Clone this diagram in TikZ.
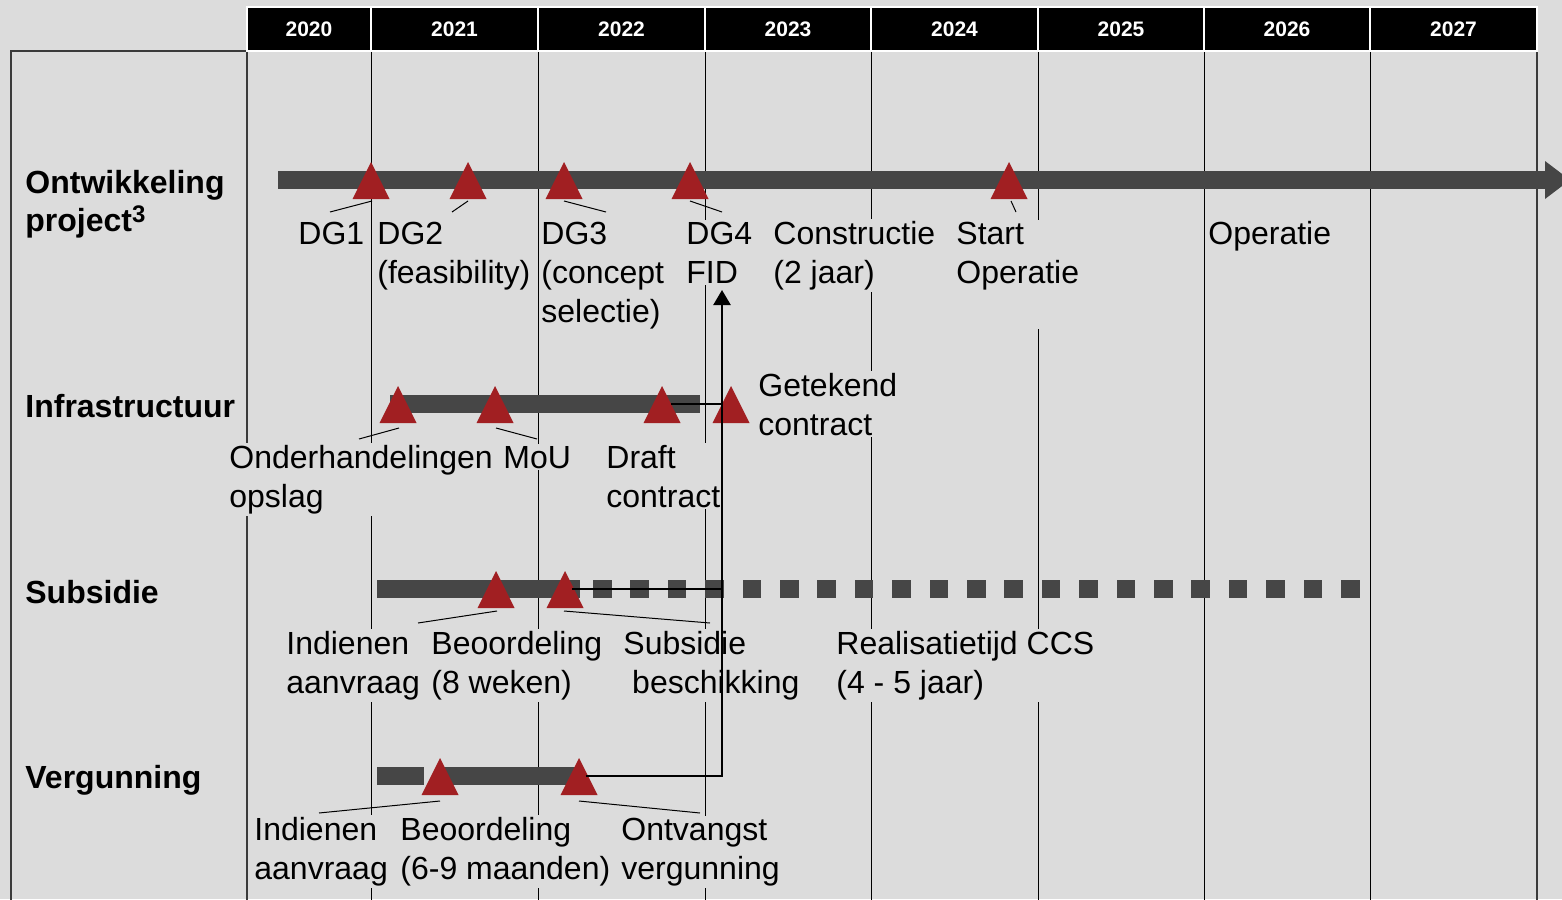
\documentclass[tikz,border=0pt]{standalone}
\usepackage{fontspec}
\setmainfont{Liberation Sans}
\usetikzlibrary{calc,arrows.meta}
\definecolor{bg}{HTML}{DCDCDC}
\definecolor{barc}{HTML}{464646}
\definecolor{msred}{HTML}{A11F22}
\definecolor{framec}{HTML}{3A3A3A}
\newcommand{\mstone}[3]{\coordinate (#1) at (#2,#3); \fill[msred] ($(#1)+(0,-18)$) -- ($(#1)+(-18.5,19)$) -- ($(#1)+(18.5,19)$) -- cycle;}
\begin{document}
\begin{tikzpicture}[x=0.5pt,y=-0.5pt,
  lbl/.style={anchor=base west, align=left, fill=bg, inner xsep=0.5pt, inner ysep=1pt, font=\fontsize{16}{19.5}\selectfont},
  rowlbl/.style={anchor=base west, align=left, inner sep=0pt, font=\fontsize{16}{19}\selectfont\bfseries},
  yr/.style={anchor=center, text=white, inner sep=0pt, font=\fontsize{10.5}{12}\selectfont\bfseries},
  frame/.style={draw=framec, line width=1pt},
  yl/.style={draw=black, line width=0.5pt},
  barfill/.style={fill=barc},
  leader/.style={draw=black, line width=0.5pt},
  conn/.style={draw=black, line width=1.2pt},
]
\useasboundingbox (0,0) rectangle (1562,899);
\clip (0,0) rectangle (1562,899);
\fill[bg] (0,0) rectangle (1562,899);

% year grid lines
\foreach \x in {371,538,705,871,1038,1204,1370} \draw[yl] (\x,51) -- (\x,905);
% frame
\draw[frame] (11,905) -- (11,51) -- (1537,51) -- (1537,905);
\draw[frame] (247,51) -- (247,905);

% header
\foreach \a/\b/\y in {247/371/2020,371/538/2021,538/705/2022,705/871/2023,871/1038/2024,1038/1204/2025,1204/1370/2026,1370/1537/2027}{
  \draw[fill=black,draw=white,line width=0.6pt] (\a,7) rectangle (\b,51);
  \node[yr] (y\y) at ({(\a+\b)/2},29) {\y};
}

% row labels (base = last line)
\node[rowlbl] (r1) at (25,231) {Ontwikkeling\\project{\fontsize{12}{12}\selectfont\raisebox{4.2pt}{3}}};
\node[rowlbl] (r2) at (25,417) {Infrastructuur};
\node[rowlbl] (r3) at (25,603) {Subsidie};
\node[rowlbl] (r4) at (25,788) {Vergunning};

% text labels (base = last line)
\node[lbl] (t1) at (297,244) {DG1};
\node[lbl] (t2) at (376,283) {DG2\\(feasibility)};
\node[lbl] (t3) at (540,322) {DG3\\(concept\\selectie)};
\node[lbl] (t4) at (685,283) {DG4\\FID};
\node[lbl] (t5) at (772,283) {Constructie\\(2 jaar)};
\node[lbl, text depth=22pt] (t6) at (955,283) {Start\\Operatie};
\node[lbl] (t7) at (1207,244) {Operatie};

\node[lbl] (u1) at (228,507) {Onderhandelingen\\opslag};
\node[lbl] (u2) at (502,468) {MoU};
\node[lbl] (u3) at (605,507) {Draft\\contract};
\node[lbl] (u4) at (757,435) {Getekend\\contract};

\node[lbl] (s1l) at (285,693) {Indienen\\aanvraag};
\node[lbl] (s2l) at (430,693) {Beoordeling\\(8 weken)};
\node[lbl] (s3l) at (622,693) {Subsidie\\\hspace*{4.4pt}beschikking};
\node[lbl] (s4l) at (835,693) {Realisatietijd CCS\\(4 - 5 jaar)};

\node[lbl] (v1l) at (253,879) {Indienen\\aanvraag};
\node[lbl] (v2l) at (399,879) {Beoordeling\\(6-9 maanden)};
\node[lbl] (v3l) at (620,879) {Ontvangst\\vergunning};

% bars
\fill[barfill] (278,171) rectangle (1546,189);
\fill[barfill] (1545,161) -- (1570,180) -- (1545,199) -- cycle;
\fill[barfill] (390,395) rectangle (700,413);
\fill[barfill] (377,580) rectangle (580,598);
\foreach \i in {0,...,20} \fill[barfill] ({593+37.4*\i},580) rectangle ++(18.5,18);
\fill[barfill] (377,767) rectangle (424,785);
\fill[barfill] (440,767) rectangle (578,785);

% milestones
\mstone{d1}{371}{180}
\mstone{d2}{468}{180}
\mstone{d3}{564}{180}
\mstone{d4}{690}{180}
\mstone{d5}{1009}{180}
\mstone{i1}{398}{404}
\mstone{i2}{495}{404}
\mstone{i3}{662}{404}
\mstone{i4}{731}{404}
\mstone{s1}{496}{589}
\mstone{s2}{565}{589}
\mstone{v1}{440}{776}
\mstone{v2}{579}{776}

% leaders
\draw[leader] ($(d1)+(1,21)$) -- ++(-42,11);
\draw[leader] ($(d2)+(0,21)$) -- ++(-16,11);
\draw[leader] ($(d3)+(0,21)$) -- ++(42,11);
\draw[leader] ($(d4)+(0,21)$) -- ++(32,11);
\draw[leader] ($(d5)+(2,21)$) -- ++(5,11);
\draw[leader] ($(i1)+(1,24)$) -- ++(-40,11);
\draw[leader] ($(i2)+(1,24)$) -- ++(41,11);
\draw[leader] ($(s1)+(1,22)$) -- ++(-79,12);
\draw[leader] ($(s2)+(-1,22)$) -- ++(146,12);
\draw[leader] ($(v1)+(0,25)$) -- ++(-121,12);
\draw[leader] ($(v2)+(0,25)$) -- ++(121,12);

% connectors
\coordinate (fid) at (722,290);
\draw[conn, shorten <=3.5pt, -{Triangle[length=7.5pt,width=8.5pt]}] (v2) -| (fid);
\draw[conn, shorten <=3.5pt] (s2) -- (s2 -| fid);
\draw[conn, shorten <=4.5pt] (i3) -- (i3 -| fid);
\end{tikzpicture}
\end{document}
